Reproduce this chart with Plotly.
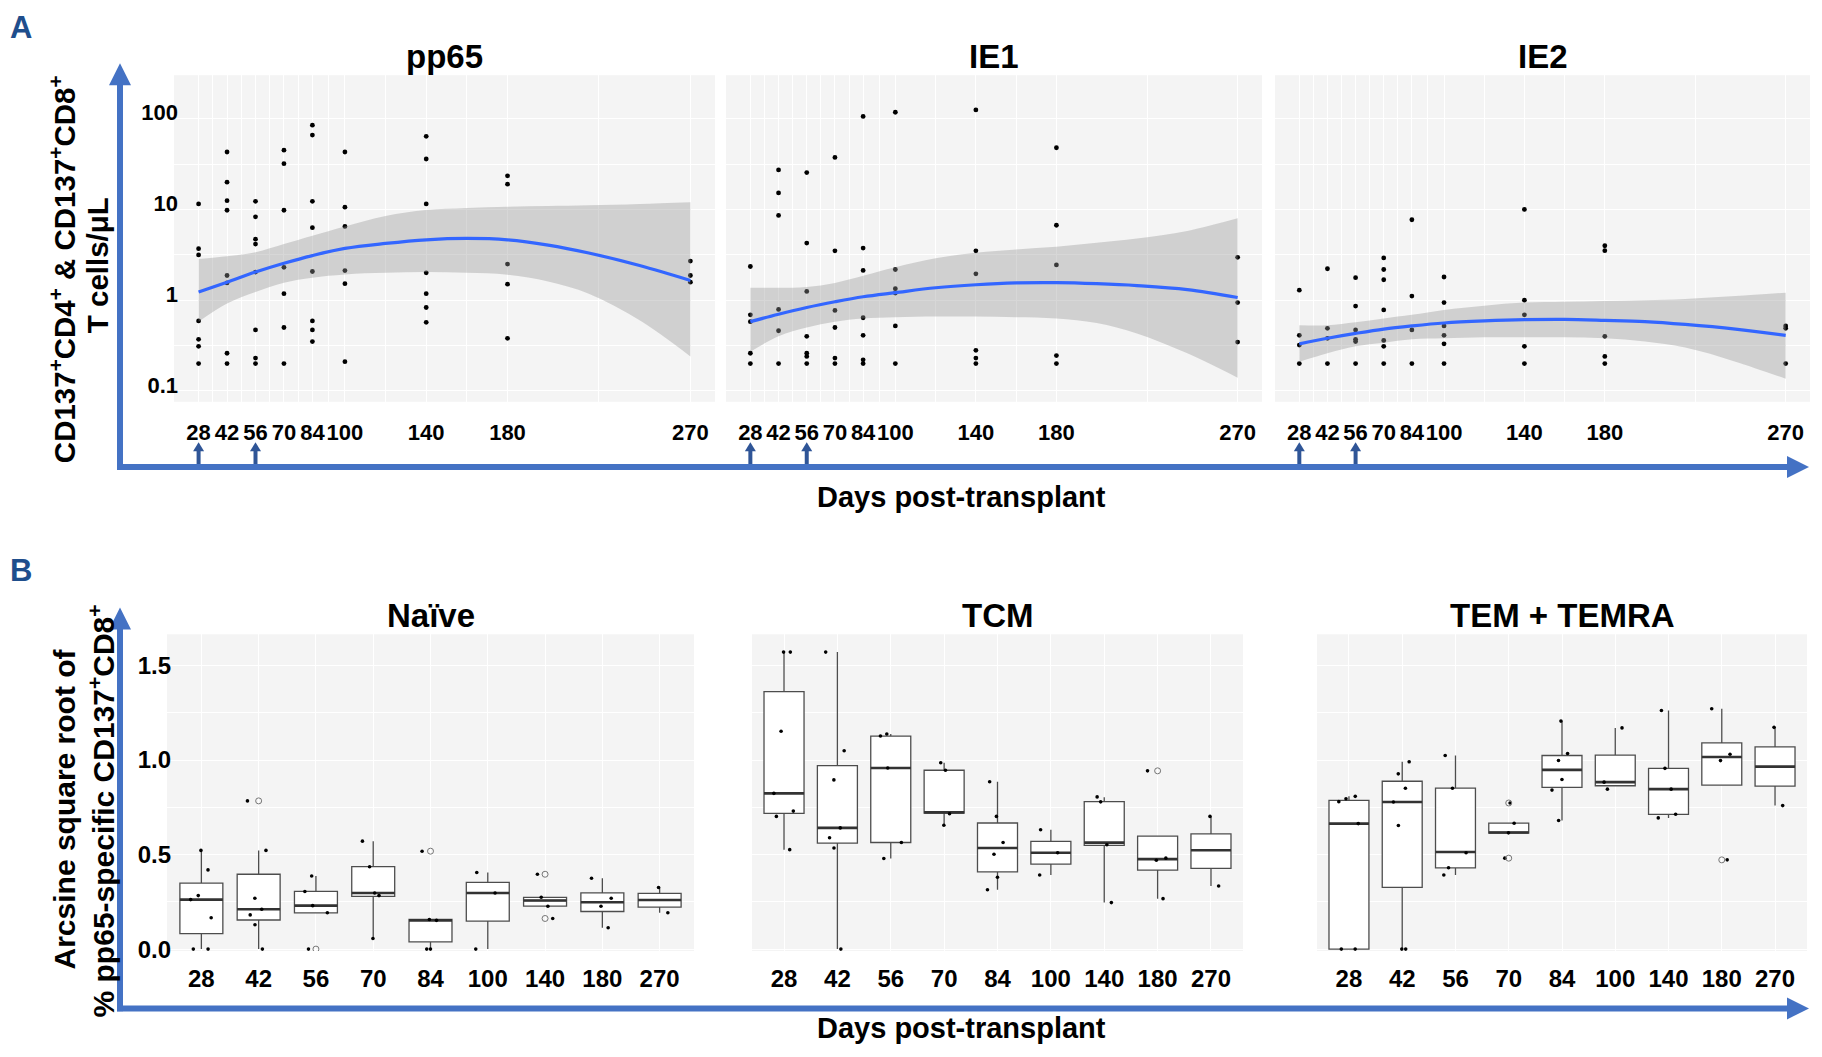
import plotly.graph_objects as go

W, H = 1822, 1057
FONT = "Liberation Sans, Arial, Helvetica, sans-serif"
BG = "#F4F4F4"
AXIS_BLUE = "#4472C4"
SMALL_ARROW = "#2F5597"
LETTER_BLUE = "#1F4E8C"

# ---------------- data ----------------
DAYS = [28, 42, 56, 70, 84, 100, 140, 180, 270]
DAY_LABELS = [str(d) for d in DAYS]
TREATMENT_DAYS = [28, 56]

# Panel A: CD137+ T cells/uL per day (one list per day in DAYS)
PP65_POINTS = [
    [11.5, 3.7, 3.15, 0.59, 0.37, 0.31, 0.2],
    [43, 20, 12.5, 9.8, 1.87, 1.55, 0.26, 0.2],
    [12.3, 8.3, 4.7, 4.15, 2.04, 0.47, 0.23, 0.2],
    [45, 32, 9.8, 2.3, 1.18, 0.5, 0.2],
    [85, 66, 12.3, 6.3, 2.07, 0.59, 0.47, 0.35],
    [43, 10.6, 6.5, 2.12, 1.52, 0.21],
    [64, 36, 11.5, 2.0, 1.18, 0.83, 0.57],
    [23.5, 19, 2.5, 1.5, 0.38],
    [2.7, 1.87, 1.58],
]
IE1_POINTS = [
    [2.35, 0.69, 0.58, 0.26, 0.2],
    [27.3, 15.2, 8.6, 0.79, 0.46, 0.2],
    [25.5, 4.26, 1.25, 0.4, 0.26, 0.24, 0.2],
    [37.5, 3.5, 0.77, 0.5, 0.23, 0.2],
    [106, 3.75, 2.13, 0.64, 0.41, 0.22, 0.2],
    [118, 2.18, 1.34, 1.2, 0.52, 0.2],
    [125, 3.5, 1.95, 0.28, 0.23, 0.2],
    [47.9, 6.7, 2.45, 0.245, 0.2],
    [2.97, 0.94, 0.345],
]
IE2_POINTS = [
    [1.29, 0.41, 0.32, 0.2],
    [2.22, 0.49, 0.38, 0.2],
    [1.77, 0.86, 0.47, 0.37, 0.35, 0.2],
    [2.92, 2.18, 1.68, 0.78, 0.36, 0.31, 0.2],
    [7.7, 1.11, 0.47, 0.2],
    [1.8, 0.94, 0.52, 0.41, 0.33, 0.2],
    [10.0, 1.0, 0.69, 0.31, 0.2],
    [3.98, 3.51, 0.40, 0.24, 0.2],
    [0.52, 0.49, 0.2],
]

# Smoothed fit and its confidence band
FIT_DAYS = [28, 42, 56, 70, 84, 100, 120, 140, 160, 180, 200, 220, 245, 270]
PP65_FIT = [1.23, 1.58, 2.04, 2.55, 3.10, 3.72, 4.22, 4.63, 4.79, 4.63, 4.05, 3.31, 2.41, 1.65]
PP65_HI = [2.85, 3.05, 3.37, 4.15, 5.12, 6.47, 8.46, 9.84, 10.4, 10.7, 10.9, 11.1, 11.5, 12.0]
PP65_LO = [0.58, 0.92, 1.23, 1.56, 1.77, 1.92, 2.0, 2.04, 2.0, 1.91, 1.61, 1.18, 0.6, 0.24]
IE1_FIT = [0.58, 0.70, 0.83, 0.96, 1.09, 1.21, 1.37, 1.48, 1.55, 1.56, 1.52, 1.45, 1.31, 1.07]
IE1_HI = [1.37, 1.37, 1.40, 1.55, 1.86, 2.31, 2.90, 3.34, 3.63, 3.88, 4.29, 4.79, 5.8, 7.98]
IE1_LO = [0.27, 0.40, 0.50, 0.58, 0.63, 0.65, 0.66, 0.66, 0.65, 0.63, 0.56, 0.43, 0.26, 0.14]
IE2_FIT = [0.33, 0.38, 0.43, 0.48, 0.52, 0.56, 0.59, 0.61, 0.615, 0.60, 0.58, 0.54, 0.48, 0.41]
IE2_HI = [0.53, 0.53, 0.57, 0.63, 0.69, 0.78, 0.87, 0.94, 0.96, 0.98, 1.0, 1.03, 1.11, 1.21]
IE2_LO = [0.21, 0.26, 0.31, 0.34, 0.37, 0.38, 0.39, 0.39, 0.39, 0.38, 0.35, 0.30, 0.21, 0.136]

# Panel B: arcsine sqrt of % pp65-specific CD137+CD8+ (box statistics per day)
NAIVE_Q1 = [0.082, 0.154, 0.192, 0.279, 0.038, 0.148, 0.227, 0.199, 0.222]
NAIVE_MED = [0.262, 0.211, 0.230, 0.297, 0.152, 0.297, 0.257, 0.248, 0.260]
NAIVE_Q3 = [0.349, 0.396, 0.305, 0.436, 0.157, 0.353, 0.274, 0.297, 0.295]
NAIVE_LOW = [0.0, 0.0, 0.192, 0.056, 0.0, 0.0, 0.227, 0.113, 0.192]
NAIVE_HIGH = [0.522, 0.522, 0.387, 0.571, 0.157, 0.405, 0.274, 0.375, 0.326]
NAIVE_POINTS = [
    [0.522, 0.419, 0.283, 0.262, 0.166, 0.0, 0.0],
    [0.784, 0.522, 0.269, 0.211, 0.181, 0.129, 0.0],
    [0.387, 0.305, 0.23, 0.192, 0.0],
    [0.571, 0.436, 0.283, 0.297, 0.056],
    [0.518, 0.157, 0.152, 0.0, 0.0],
    [0.405, 0.297, 0.0],
    [0.396, 0.274, 0.227, 0.162],
    [0.375, 0.269, 0.227, 0.113],
    [0.326, 0.192],
]
NAIVE_OUTLIERS = [[], [0.784], [0.0], [], [0.518], [], [0.396, 0.162], [], []]

TCM_Q1 = [0.718, 0.561, 0.564, 0.720, 0.409, 0.449, 0.549, 0.418, 0.427]
TCM_MED = [0.824, 0.641, 0.958, 0.723, 0.535, 0.510, 0.563, 0.476, 0.523]
TCM_Q3 = [1.362, 0.970, 1.127, 0.946, 0.667, 0.570, 0.780, 0.598, 0.610]
TCM_LOW = [0.526, 0.0, 0.479, 0.655, 0.314, 0.392, 0.246, 0.267, 0.334]
TCM_HIGH = [1.571, 1.571, 1.138, 0.986, 0.885, 0.631, 0.803, 0.598, 0.702]
TCM_POINTS = [
    [1.571, 1.571, 1.152, 0.824, 0.73, 0.702, 0.526],
    [1.571, 1.049, 0.895, 0.641, 0.589, 0.535, 0.0],
    [1.138, 1.127, 0.958, 0.564, 0.479],
    [0.986, 0.946, 0.716, 0.655],
    [0.885, 0.702, 0.564, 0.502, 0.38, 0.314],
    [0.631, 0.51, 0.392],
    [0.805, 0.779, 0.552, 0.246],
    [0.943, 0.47, 0.481, 0.267],
    [0.702, 0.334],
]
TCM_OUTLIERS = [[], [], [], [], [], [], [], [0.943], []]

TEM_Q1 = [0.0, 0.327, 0.430, 0.614, 0.855, 0.864, 0.713, 0.867, 0.862]
TEM_MED = [0.664, 0.778, 0.514, 0.617, 0.948, 0.883, 0.846, 1.016, 0.965]
TEM_Q3 = [0.787, 0.888, 0.851, 0.666, 1.024, 1.026, 0.956, 1.091, 1.070]
TEM_LOW = [0.0, 0.0, 0.392, 0.614, 0.680, 0.864, 0.694, 0.867, 0.759]
TEM_HIGH = [0.808, 0.991, 1.024, 0.666, 1.206, 1.170, 1.262, 1.271, 1.173]
TEM_POINTS = [
    [0.808, 0.795, 0.78, 0.664, 0.0, 0.0],
    [0.991, 0.927, 0.851, 0.778, 0.654, 0.0, 0.0],
    [1.024, 0.851, 0.51, 0.43, 0.392],
    [0.773, 0.666, 0.615, 0.481],
    [1.206, 1.035, 0.998, 0.897, 0.841, 0.68],
    [1.17, 0.883, 0.846],
    [1.262, 0.956, 0.846, 0.713, 0.694],
    [1.271, 1.031, 0.997, 0.472],
    [1.173, 0.759],
]
TEM_OUTLIERS = [[], [], [], [0.773, 0.481], [], [], [], [0.472], []]

A_TITLES = ["pp65", "IE1", "IE2"]
B_TITLES = ["Naïve", "TCM", "TEM + TEMRA"]


# ---------------- helpers ----------------
def px(x):
    return x / W


def py(y):
    return 1 - y / H


def flat_x(labels, groups):
    return [lab for lab, g in zip(labels, groups) for _ in g]


def flat_y(groups):
    return [v for g in groups for v in g]


def bfont(size, color="black"):
    return dict(family=FONT, size=size, color=color, weight="bold")


def text_ann(text, x, y, size, color="black", angle=0, yanchor="middle"):
    return dict(text=text, x=px(x), y=py(y), xref="paper", yref="paper", showarrow=False,
                xanchor="center", yanchor=yanchor, textangle=angle, font=bfont(size, color))


shapes = []


def up_arrow(xref, xval, tip_px, tail_px, width, head_w, head_l, color):
    """Vertical arrow pointing up; x given in xref coordinates, y in figure pixels."""
    shapes.append(dict(type="line", xref=xref, x0=xval, x1=xval, yref="paper",
                       y0=py(tail_px), y1=py(tip_px + head_l - 1),
                       line=dict(color=color, width=width), layer="above"))
    shapes.append(dict(type="path", xref=xref, xsizemode="pixel", xanchor=xval,
                       yref="paper", ysizemode="pixel", yanchor=py(tip_px),
                       path=f"M{-head_w / 2},{-head_l} L{head_w / 2},{-head_l} L0,0 Z",
                       fillcolor=color, line=dict(width=0), layer="above"))


def right_arrow(x_start, tip_x, y_px, width, head_w, head_l, color):
    shapes.append(dict(type="line", xref="paper", yref="paper",
                       x0=px(x_start), x1=px(tip_x - head_l + 1), y0=py(y_px), y1=py(y_px),
                       line=dict(color=color, width=width), layer="above"))
    shapes.append(dict(type="path", xref="paper", xsizemode="pixel", xanchor=px(tip_x),
                       yref="paper", ysizemode="pixel", yanchor=py(y_px),
                       path=f"M{-head_l},{-head_w / 2} L{-head_l},{head_w / 2} L0,0 Z",
                       fillcolor=color, line=dict(width=0), layer="above"))


fig = go.Figure()
layout = {}
annotations = []

# ---------------- Panel A ----------------
A_XDOM = [(174, 715), (726, 1262), (1275, 1810)]
A_YPIX = (76, 406)
A_DATA = [
    (PP65_POINTS, PP65_FIT, PP65_LO, PP65_HI),
    (IE1_POINTS, IE1_FIT, IE1_LO, IE1_HI),
    (IE2_POINTS, IE2_FIT, IE2_LO, IE2_HI),
]
x_minor = [(a + b) / 2 for a, b in zip(DAYS[:-1], DAYS[1:])]

for i, (pts, fit, lo, hi) in enumerate(A_DATA):
    k = i + 1
    xa = "x" if k == 1 else f"x{k}"
    ya = "y" if k == 1 else f"y{k}"
    fig.add_trace(go.Scatter(x=flat_x(DAYS, pts), y=flat_y(pts), mode="markers",
                             marker=dict(color="black", size=4.8),
                             xaxis=xa, yaxis=ya, showlegend=False, hoverinfo="skip"))
    fig.add_trace(go.Scatter(x=FIT_DAYS, y=lo, mode="lines",
                             line=dict(width=0, shape="spline", color="rgba(0,0,0,0)"),
                             xaxis=xa, yaxis=ya, showlegend=False, hoverinfo="skip"))
    fig.add_trace(go.Scatter(x=FIT_DAYS, y=hi, mode="lines",
                             line=dict(width=0, shape="spline", color="rgba(0,0,0,0)"),
                             fill="tonexty", fillcolor="rgba(150,150,150,0.38)",
                             xaxis=xa, yaxis=ya, showlegend=False, hoverinfo="skip"))
    fig.add_trace(go.Scatter(x=FIT_DAYS, y=fit, mode="lines",
                             line=dict(color="#3366FF", width=3.2, shape="spline"),
                             xaxis=xa, yaxis=ya, showlegend=False, hoverinfo="skip"))

    xd = A_XDOM[i]
    layout["xaxis" if k == 1 else f"xaxis{k}"] = dict(
        domain=[px(xd[0]), px(xd[1])], anchor=ya, range=[15.9, 282.1],
        tickmode="array", tickvals=DAYS, ticktext=DAY_LABELS, tickangle=0,
        tickfont=bfont(22), ticks="outside", ticklen=11, tickcolor="rgba(0,0,0,0)",
        showgrid=True, gridcolor="white", gridwidth=1.2,
        minor=dict(tickvals=x_minor, showgrid=True, gridcolor="white", gridwidth=0.6),
        zeroline=False, showline=False)
    layout["yaxis" if k == 1 else f"yaxis{k}"] = dict(
        domain=[py(A_YPIX[1]), py(A_YPIX[0])], anchor=xa, type="log", range=[-1.12, 2.48],
        tickmode="array", tickvals=[0.1, 1, 10, 100], ticktext=["0.1", "1", "10", "100"],
        showticklabels=(k == 1), tickfont=bfont(22), ticks="",
        ticklabelstandoff=-5, ticklabelshift=-6,
        showgrid=True, gridcolor="white", gridwidth=1.2,
        minor=dict(tickvals=[0.316, 3.16, 31.6], showgrid=True, gridcolor="white", gridwidth=0.6),
        zeroline=False, showline=False)
    annotations.append(text_ann(A_TITLES[i], (xd[0] + xd[1]) / 2, 57, 33))
    for d in TREATMENT_DAYS:
        up_arrow(xa, d, 447, 472, 4, 11, 9, SMALL_ARROW)

# ---------------- Panel B ----------------
B_XDOM = [(167, 694), (752, 1243), (1317, 1807)]
B_YPIX = (641, 961)
B_DATA = [
    (NAIVE_Q1, NAIVE_MED, NAIVE_Q3, NAIVE_LOW, NAIVE_HIGH, NAIVE_POINTS, NAIVE_OUTLIERS),
    (TCM_Q1, TCM_MED, TCM_Q3, TCM_LOW, TCM_HIGH, TCM_POINTS, TCM_OUTLIERS),
    (TEM_Q1, TEM_MED, TEM_Q3, TEM_LOW, TEM_HIGH, TEM_POINTS, TEM_OUTLIERS),
]

for i, (q1, med, q3, low, high, pts, outl) in enumerate(B_DATA):
    k = i + 4
    xa, ya = f"x{k}", f"y{k}"
    fig.add_trace(go.Box(x=DAY_LABELS, q1=q1, median=med, q3=q3,
                         lowerfence=low, upperfence=high, orientation="v",
                         fillcolor="white", line=dict(color="#4d4d4d", width=1.3),
                         whiskerwidth=0, width=0.75, boxpoints=False,
                         xaxis=xa, yaxis=ya, showlegend=False, hoverinfo="skip"))
    fig.add_trace(go.Box(x=DAY_LABELS, q1=med, median=med, q3=med,
                         lowerfence=med, upperfence=med, orientation="v",
                         fillcolor="rgba(0,0,0,0)", line=dict(color="#333333", width=2.6),
                         whiskerwidth=0, width=0.75, boxpoints=False,
                         xaxis=xa, yaxis=ya, showlegend=False, hoverinfo="skip"))
    fig.add_trace(go.Box(x=flat_x(DAY_LABELS, pts), y=flat_y(pts), orientation="v",
                         boxpoints="all", jitter=0.6, pointpos=0,
                         fillcolor="rgba(0,0,0,0)", line=dict(color="rgba(0,0,0,0)", width=0),
                         marker=dict(color="black", size=3.6), width=0.75,
                         xaxis=xa, yaxis=ya, showlegend=False, hoverinfo="skip"))
    fig.add_trace(go.Scatter(x=flat_x(DAY_LABELS, outl), y=flat_y(outl), mode="markers",
                             marker=dict(symbol="circle-open", color="#777777", size=6,
                                         line=dict(width=1, color="#777777")),
                             xaxis=xa, yaxis=ya, showlegend=False, hoverinfo="skip"))
    xd = B_XDOM[i]
    layout[f"xaxis{k}"] = dict(
        domain=[px(xd[0]), px(xd[1])], anchor=ya, type="category",
        categoryorder="array", categoryarray=DAY_LABELS, range=[-0.6, 8.6], tickangle=0,
        tickfont=bfont(24), ticks="outside", ticklen=6, tickcolor="rgba(0,0,0,0)",
        showgrid=True, gridcolor="white", gridwidth=1.2, zeroline=False, showline=False)
    layout[f"yaxis{k}"] = dict(
        domain=[py(B_YPIX[1]), py(B_YPIX[0])], anchor=xa, range=[-0.01, 1.665],
        tickmode="array", tickvals=[0, 0.5, 1.0, 1.5], ticktext=["0.0", "0.5", "1.0", "1.5"],
        showticklabels=(k == 4), tickfont=bfont(24), ticks="", ticklabelstandoff=-5,
        showgrid=True, gridcolor="white", gridwidth=1.2,
        minor=dict(tickvals=[0.25, 0.75, 1.25], showgrid=True, gridcolor="white", gridwidth=0.6),
        zeroline=False, showline=False)
    annotations.append(text_ann(B_TITLES[i], (xd[0] + xd[1]) / 2, 622, 33))
    for d in TREATMENT_DAYS:
        up_arrow(xa, str(d), 996, 1019, 4, 11, 9, SMALL_ARROW)

# ---------------- big axis arrows ----------------
up_arrow("paper", px(120), 64, 475, 6, 22, 22, AXIS_BLUE)
right_arrow(117, 1809, 472, 6, 22, 22, AXIS_BLUE)
up_arrow("paper", px(120), 614, 1022, 6, 22, 22, AXIS_BLUE)
right_arrow(117, 1809, 1019, 6, 22, 22, AXIS_BLUE)

# ---------------- axis titles, panel letters ----------------
annotations += [
    text_ann("CD137<sup>+</sup>CD4<sup>+</sup> & CD137<sup>+</sup>CD8<sup>+</sup>", 62, 272, 29.5, angle=-90),
    text_ann("T cells/μL", 97, 268, 29.5, angle=-90),
    text_ann("Arcsine square root of", 64, 818, 30, angle=-90),
    text_ann("% pp65-specific CD137<sup>+</sup>CD8<sup>+</sup>", 102, 820, 30, angle=-90),
    text_ann("Days post-transplant", 962, 502, 29),
    text_ann("Days post-transplant", 962, 1057, 29, yanchor="bottom"),
    text_ann("A", 21, 28, 31, LETTER_BLUE),
    text_ann("B", 21, 577, 31, LETTER_BLUE),
]

fig.update_layout(
    width=W, height=H, margin=dict(l=0, r=0, t=0, b=0),
    paper_bgcolor="white", plot_bgcolor=BG, boxmode="overlay",
    showlegend=False, font=dict(family=FONT, color="black"),
    annotations=annotations, shapes=shapes, **layout)

fig.write_html(
    "out.html", config={"displayModeBar": False},
    post_script=("document.body.style.margin='0px';"
                 "document.body.style.overflow='hidden';"
                 "document.documentElement.style.overflow='hidden';"))
